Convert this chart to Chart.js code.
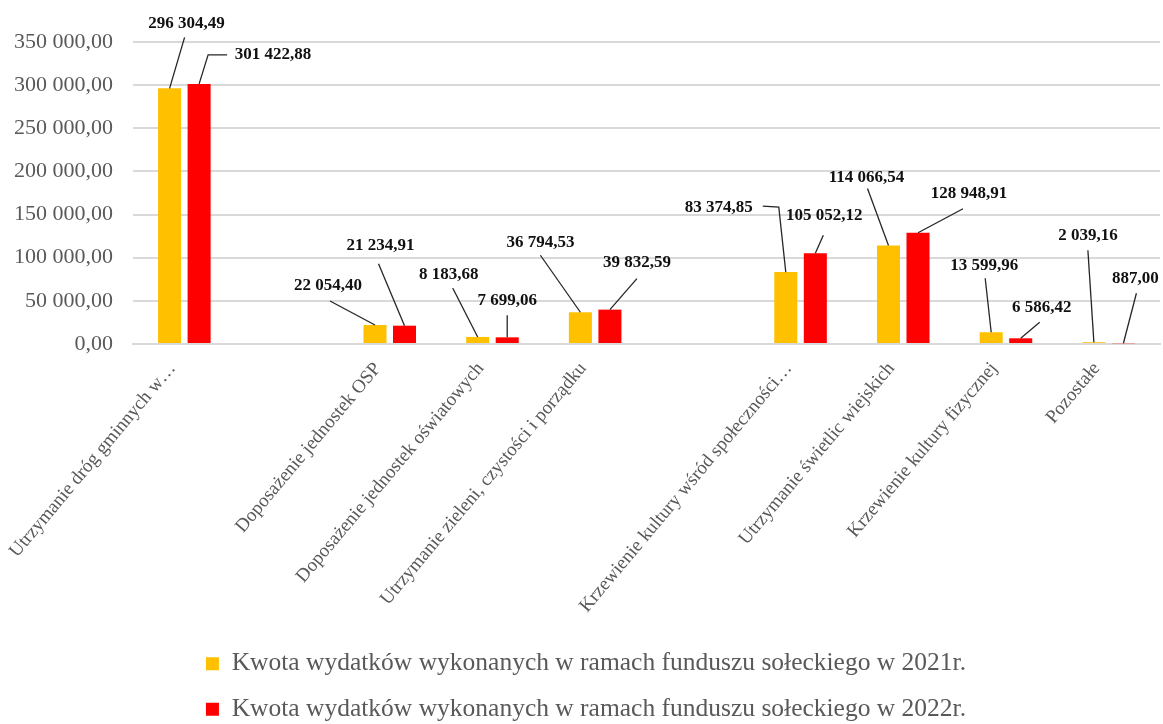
<!DOCTYPE html>
<html>
<head>
<meta charset="utf-8">
<script src="https://cdn.jsdelivr.net/npm/chart.js@4.4.0/dist/chart.umd.min.js"></script>
<style>
  html, body { margin: 0; padding: 0; background: #fff; }
  #wrap { width: 1163px; height: 724px; position: relative; }
</style>
</head>
<body>
<div id="wrap"><canvas id="fundChart"></canvas></div>
<script>
const categories = [
  "Utrzymanie dróg gminnych w…",
  "",
  "Doposażenie jednostek OSP",
  "Doposażenie jednostek oświatowych",
  "Utrzymanie zieleni, czystości i porządku",
  "",
  "Krzewienie kultury wśród społeczności…",
  "Utrzymanie świetlic wiejskich",
  "Krzewienie kultury fizycznej",
  "Pozostałe"
];
const values2021 = [296304.49, null, 22054.40, 8183.68, 36794.53, null, 83374.85, 114066.54, 13599.96, 2039.16];
const values2022 = [301422.88, null, 21234.91, 7699.06, 39832.59, null, 105052.12, 128948.91, 6586.42, 887.00];
const seriesNames = [
  "Kwota wydatków wykonanych w ramach funduszu sołeckiego w 2021r.",
  "Kwota wydatków wykonanych w ramach funduszu sołeckiego w 2022r."
];
const yMax = 350000;
const yStep = 50000;

const serif = "'Liberation Serif', 'Times New Roman', serif";
const grey = "#595959";

function formatPl(v) {
  const parts = Number(v).toFixed(2).split(".");
  parts[0] = parts[0].replace(/\B(?=(\d{3})+(?!\d))/g, " ");
  return parts[0] + "," + parts[1];
}

// where each value label sits, measured from the top of its bar:
// [label dx, label dy, line end dx, line end dy, (elbow dx, elbow dy)]
const callouts = [
  [[17, -65, 15, -51], null, [-47, -39, -45, -24], [-29, -62, -25, -49], [-40, -70, -40, -57],
   null, [-67, -64, -23, -66, -7, -65], [-22, -68, -21, -57], [-7, -67, -6, -54], [-6, -107, -6, -92]],
  [[74, -29, 28, -29, 9, -29], null, [-24, -80, -26, -62], [0, -37, 0, -22], [27, -47, 27, -31],
   null, [9, -38, 8, -18], [51, -39, 45, -24], [21, -31, 19, -16], [12, -65, 13, -50]]
];

const calloutPlugin = {
  id: "callouts",
  afterDatasetsDraw(chart) {
    const ctx = chart.ctx;
    ctx.save();
    ctx.font = "bold 17px " + serif;
    ctx.textAlign = "center";
    ctx.textBaseline = "middle";
    ctx.strokeStyle = "#262626";
    ctx.lineWidth = 1.3;
    ctx.fillStyle = "#111";
    chart.data.datasets.forEach((ds, di) => {
      const meta = chart.getDatasetMeta(di);
      meta.data.forEach((bar, i) => {
        const c = callouts[di][i];
        if (!c || ds.data[i] == null) return;
        const x0 = bar.x, y0 = bar.y;
        ctx.beginPath();
        ctx.moveTo(x0, y0);
        if (c.length > 4) ctx.lineTo(x0 + c[4], y0 + c[5]);
        ctx.lineTo(x0 + c[2], y0 + c[3]);
        ctx.stroke();
        ctx.fillText(formatPl(ds.data[i]), x0 + c[0], y0 + c[1]);
      });
    });
    ctx.restore();
  }
};

const ctx = document.getElementById("fundChart").getContext("2d");

new Chart(ctx, {
  type: "bar",
  data: {
    labels: categories,
    datasets: [
      {
        label: seriesNames[0],
        data: values2021,
        backgroundColor: "#FFC000",
        categoryPercentage: 0.575,
        barPercentage: 0.78
      },
      {
        label: seriesNames[1],
        data: values2022,
        backgroundColor: "#FF0000",
        categoryPercentage: 0.575,
        barPercentage: 0.78
      }
    ]
  },
  options: {
    responsive: true,
    maintainAspectRatio: false,
    animation: false,
    layout: {
      padding: { top: 42, left: 12, right: 3, bottom: -8 }
    },
    plugins: {
      legend: {
        position: "bottom",
        labels: {
          font: { family: serif, size: 25.5 },
          color: grey,
          boxWidth: 13,
          boxHeight: 13,
          padding: 20
        }
      },
      tooltip: { enabled: false }
    },
    scales: {
      x: {
        grid: { display: false },
        border: { color: "#d9d9d9", width: 2 },
        ticks: {
          autoSkip: false,
          minRotation: 50,
          maxRotation: 50,
          labelOffset: -12,
          padding: 6,
          font: { family: serif, size: 19 },
          color: grey
        },
        afterFit(scale) {
          scale.height = 287;
        }
      },
      y: {
        min: 0,
        max: yMax,
        border: { display: false },
        grid: { color: "#d9d9d9", lineWidth: 2, drawTicks: false },
        ticks: {
          stepSize: yStep,
          padding: 20,
          font: { family: serif, size: 22 },
          color: grey,
          callback: (v) => formatPl(v)
        },
        afterFit(scale) {
          scale.width = 121;
        }
      }
    }
  },
  plugins: [calloutPlugin]
});
</script>
</body>
</html>
